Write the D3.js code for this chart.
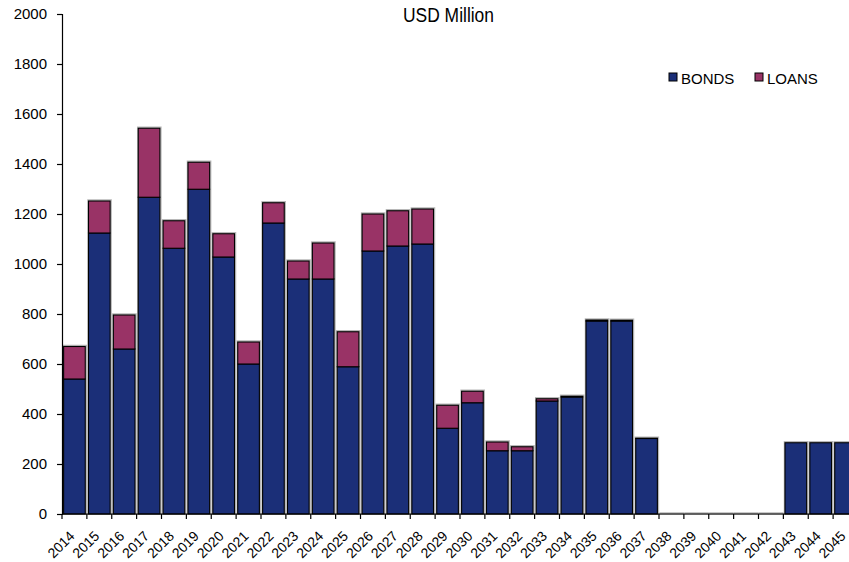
<!DOCTYPE html>
<html>
<head>
<meta charset="utf-8">
<script src="https://cdn.jsdelivr.net/npm/d3@7"></script>
<style>
  html, body { margin: 0; padding: 0; background: #fff; }
  svg { display: block; }
  text { font-family: "Liberation Sans", Arial, sans-serif; fill: #000; }
</style>
</head>
<body>
<div id="chart"></div>
<script>
const years = ["2014","2015","2016","2017","2018","2019","2020","2021","2022","2023","2024",
  "2025","2026","2027","2028","2029","2030","2031","2032","2033","2034","2035","2036","2037",
  "2038","2039","2040","2041","2042","2043","2044","2045"]
const bonds = [540, 1124, 660, 1267, 1063, 1299, 1028, 600, 1164, 940, 940,
  589, 1052, 1072, 1080, 343, 445, 253, 253, 452, 468, 772, 772, 302,
  0, 0, 0, 0, 0, 285, 285, 285]
const loans = [130, 128, 136, 276, 110, 108, 93, 88, 81, 72, 144,
  140, 148, 141, 140, 92, 46, 35, 16, 9, 3, 4, 3, 1,
  0, 0, 0, 0, 0, 0, 0, 0]
const yTicks = [0, 200, 400, 600, 800, 1000, 1200, 1400, 1600, 1800, 2000]
const seriesNames = ["BONDS", "LOANS"]
const seriesColors = ["#1b2f78", "#993366"]

const width = 849
const height = 562
const margin = { left: 62, top: 14, bottom: 48 }
const plotRight = 858

const svg = d3.select("#chart").append("svg")
  .attr("width", width)
  .attr("height", height)

const x = d3.scaleBand()
  .domain(years)
  .range([margin.left, plotRight])
  .paddingInner(0.13)
  .paddingOuter(0.065)

const y = d3.scaleLinear()
  .domain([0, 2000])
  .range([height - margin.bottom, margin.top])

const rows = years.map((yr, i) => ({ year: yr, BONDS: bonds[i], LOANS: loans[i] }))
const stacked = d3.stack().keys(seriesNames)(rows)

// soft halo behind each stack
svg.append("g")
  .selectAll("rect")
  .data(rows)
  .join("rect")
  .attr("x", d => x(d.year) - 0.5)
  .attr("y", d => y(d.BONDS + d.LOANS) - 1)
  .attr("width", x.bandwidth() + 1.5)
  .attr("height", d => y(0) - y(d.BONDS + d.LOANS) + 1)
  .attr("fill", "none")
  .attr("stroke", "#b8b8b8")
  .attr("stroke-width", 1.5)

stacked.forEach((s, si) => {
  svg.append("g")
    .selectAll("rect")
    .data(s.filter(d => d[1] - d[0] > 0))
    .join("rect")
    .attr("x", d => x(d.data.year))
    .attr("y", d => y(d[1]))
    .attr("width", x.bandwidth())
    .attr("height", d => y(d[0]) - y(d[1]))
    .attr("fill", seriesColors[si])
    .attr("stroke", "#000")
    .attr("stroke-width", 1.1)
})

// y axis
const yAxis = svg.append("g")
  .attr("transform", `translate(${margin.left},0)`)
  .call(d3.axisLeft(y).tickValues(yTicks).tickSize(5).tickPadding(10).tickFormat(d3.format("d")))
yAxis.selectAll("text").attr("font-size", "15px").attr("font-family", "Liberation Sans, Arial, sans-serif")
yAxis.selectAll("line, path").attr("stroke", "#000").attr("stroke-width", 1.2)

// x axis with ticks at category boundaries
const step = x.step()
const x0 = margin.left
svg.append("line")
  .attr("x1", x0).attr("x2", width)
  .attr("y1", y(0)).attr("y2", y(0))
  .attr("stroke", "#000").attr("stroke-width", 1.2)

svg.append("g")
  .selectAll("line")
  .data(d3.range(years.length + 1))
  .join("line")
  .attr("x1", i => x0 + i * step)
  .attr("x2", i => x0 + i * step)
  .attr("y1", y(0))
  .attr("y2", y(0) + 5)
  .attr("stroke", "#000")
  .attr("stroke-width", 1.2)

svg.append("g")
  .selectAll("text")
  .data(years)
  .join("text")
  .attr("transform", d => `translate(${x(d) + x.bandwidth() / 2 + 1},${y(0) + 23}) rotate(-45)`)
  .attr("text-anchor", "end")
  .attr("font-size", "14px")
  .text(d => d)

// title
svg.append("text")
  .attr("x", 448.5)
  .attr("y", 22)
  .attr("text-anchor", "middle")
  .attr("font-size", "20px")
  .attr("textLength", 91)
  .attr("lengthAdjust", "spacingAndGlyphs")
  .text("USD Million")

// legend
const legendX = [669, 755]
const legend = svg.append("g")
seriesNames.forEach((name, i) => {
  legend.append("rect")
    .attr("x", legendX[i])
    .attr("y", 73)
    .attr("width", 8)
    .attr("height", 8)
    .attr("fill", seriesColors[i])
    .attr("stroke", "#000")
    .attr("stroke-width", 1)
  legend.append("text")
    .attr("x", legendX[i] + 12)
    .attr("y", 84)
    .attr("font-size", "15px")
    .text(name)
})
</script>
</body>
</html>
